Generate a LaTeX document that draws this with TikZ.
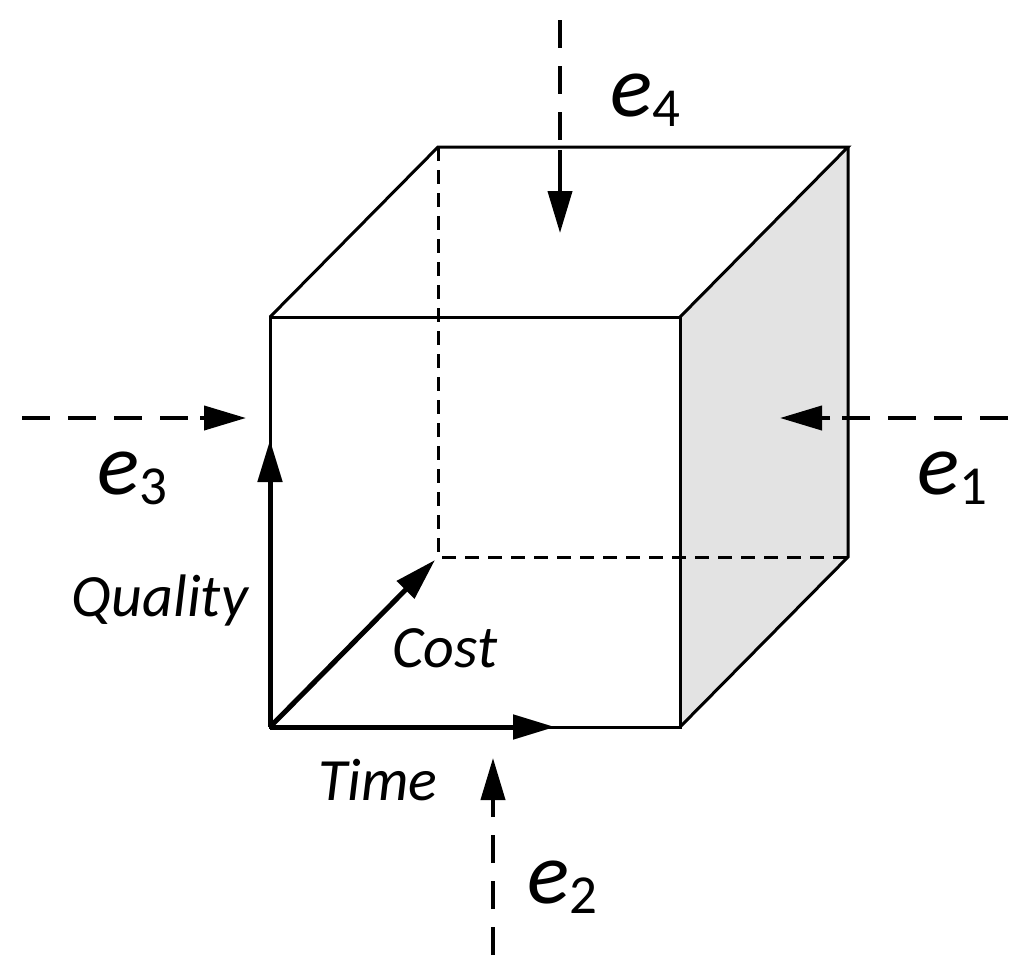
\documentclass[tikz,border=0pt]{standalone}
\usepackage{fontspec}
\setmainfont{Carlito}
\usetikzlibrary{arrows.meta}
\begin{document}
\begin{tikzpicture}[x=1pt,y=-1pt,
  edge/.style={line width=3pt},
  axis/.style={line width=5pt,-{Triangle[length=42pt,width=24pt]}},
  ext/.style={line width=4pt,dash pattern=on 28pt off 18pt},
  tip/.style={line width=4pt,-{Triangle[length=42pt,width=24pt]}},
  lbl/.style={font=\fontsize{60}{60}\selectfont\itshape},
  elbl/.style={font=\fontsize{88}{88}\selectfont}]
\useasboundingbox (0,0) rectangle (1034,980);
\coordinate (A) at (270,317); \coordinate (B) at (680,317);
\coordinate (C) at (680,727); \coordinate (D) at (270,727);
\coordinate (E) at (438,147); \coordinate (F) at (848,147);
\coordinate (G) at (848,557); \coordinate (H) at (438,557);
\fill[gray!22] (B) -- (F) -- (G) -- (C) -- cycle;
\draw[edge] (A) -- (B) -- (C) -- (D) -- cycle;
\draw[edge] (A) -- (E) -- (F) -- (B);
\draw[edge] (F) -- (G) -- (C);
\draw[edge,dash pattern=on 14pt off 9pt] (E) -- (H) -- (G);
\draw[axis] (D) -- (270,440);
\draw[axis] (D) -- (555,727);
\draw[axis] (D) -- (435,560);
% externals
\coordinate (e4a) at (560,20); \coordinate (e4b) at (560,150); \coordinate (e4c) at (560,233);
\draw[ext] (e4a) -- (e4b); \draw[tip] (e4b) -- (e4c);
\coordinate (e3a) at (22,418); \coordinate (e3b) at (200,418); \coordinate (e3c) at (246,418);
\draw[ext] (e3a) -- (e3b); \draw[tip] (e3b) -- (e3c);
\coordinate (e1a) at (1008,418); \coordinate (e1b) at (830,418); \coordinate (e1c) at (780,418);
\draw[ext] (e1a) -- (e1b); \draw[tip] (e1b) -- (e1c);
\coordinate (e2a) at (493,955); \coordinate (e2b) at (493,805); \coordinate (e2c) at (493,758);
\draw[ext] (e2a) -- (e2b); \draw[tip] (e2b) -- (e2c);
\node[elbl] (l4) at (645,100) {\textit{e}\raisebox{-10pt}{\fontsize{55}{55}\selectfont 4}};
\node[elbl] (l3) at (132,478) {\textit{e}\raisebox{-10pt}{\fontsize{55}{55}\selectfont 3}};
\node[elbl] (l1) at (952,478) {\textit{e}\raisebox{-10pt}{\fontsize{55}{55}\selectfont 1}};
\node[elbl] (l2) at (562,887) {\textit{e}\raisebox{-10pt}{\fontsize{55}{55}\selectfont 2}};
\node[lbl] (q) at (160,600) {Quality};
\node[lbl] (c) at (445,648) {Cost};
\node[lbl] (t) at (378,780) {Time};
\end{tikzpicture}
\end{document}
